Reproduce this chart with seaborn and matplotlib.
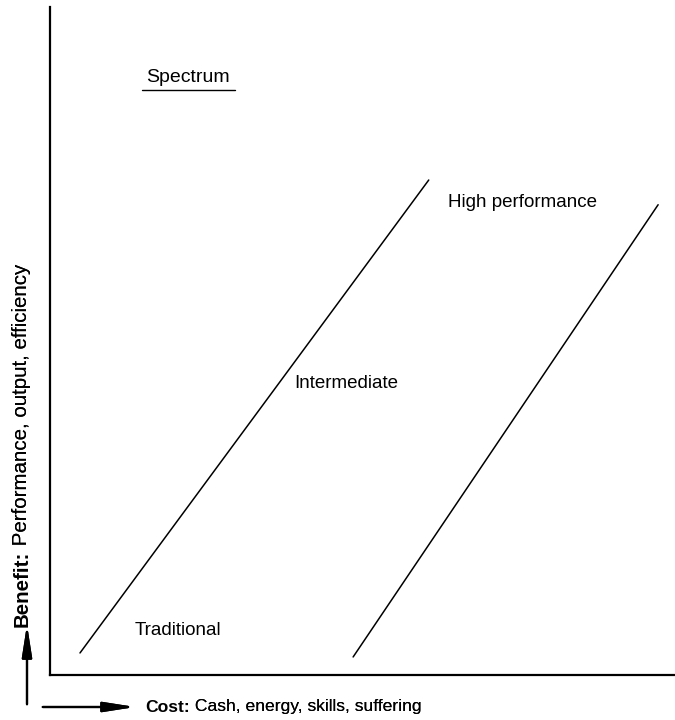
import pandas as pd
import matplotlib.pyplot as plt
import seaborn as sns

# two boundary lines of the spectrum (cost vs benefit, 0-100 scale)
boundaries = ["lower", "upper"]
cost_start = [4.8, 48.5]
cost_end = [60.6, 97.3]
benefit_start = [3.3, 2.7]
benefit_end = [74.1, 70.4]

# region labels
regions = ["Traditional", "Intermediate", "High performance"]
region_x = [20.4, 47.4, 75.6]
region_y = [6.7, 43.6, 70.8]

sns.set_theme(style="white")
plt.rcParams["font.family"] = ["Liberation Sans", "DejaVu Sans"]
plt.rcParams["text.color"] = "black"

df = pd.DataFrame({
    "boundary": boundaries * 2,
    "cost": cost_start + cost_end,
    "benefit": benefit_start + benefit_end,
})

fig = plt.figure(figsize=(6.75, 7.2), dpi=100)
ax = fig.add_axes([50 / 675, 45 / 720, 625 / 675, 668 / 720])

sns.lineplot(data=df, x="cost", y="benefit", units="boundary", estimator=None,
             color="black", linewidth=1.1, ax=ax)

for name, x, y in zip(regions, region_x, region_y):
    ax.text(x, y, name, ha="center", va="center", fontsize=13.5)

# title with underline
ax.text(22.1, 89.5, "Spectrum", ha="center", va="center", fontsize=14)
ax.plot([14.7, 29.6], [87.6, 87.6], color="black", linewidth=1.0)

ax.set_xlim(0, 100)
ax.set_ylim(0, 100)
ax.set_xticks([])
ax.set_yticks([])
ax.set_xlabel("")
ax.set_ylabel("")
for side in ["top", "right"]:
    ax.spines[side].set_visible(False)
for side in ["left", "bottom"]:
    ax.spines[side].set_color("black")
    ax.spines[side].set_linewidth(1.6)

# axis labels: bold lead word followed by regular text
yb = fig.text(22 / 675, 1 - 627 / 720, "Benefit:", rotation=90, ha="center", va="bottom",
              fontsize=14.8, fontweight="bold")
fig.add_artist(plt.annotate(" Performance, output, efficiency", xy=(0.5, 1), xycoords=yb,
                            rotation=90, ha="center", va="bottom", fontsize=14.8))
xb = fig.text(145 / 675, 1 - 707 / 720, "Cost:", ha="left", va="center",
              fontsize=12.6, fontweight="bold")
fig.add_artist(plt.annotate(" Cash, energy, skills, suffering", xy=(1, 0), xycoords=xb,
                            ha="left", va="bottom", fontsize=12.6))

arrow = dict(arrowstyle="-|>,head_length=1.6,head_width=0.25", color="black", lw=1.6)
fig.add_artist(plt.annotate("", xy=(27 / 675, 1 - 622 / 720), xytext=(27 / 675, 1 - 707 / 720),
                            xycoords="figure fraction", arrowprops=arrow))
fig.add_artist(plt.annotate("", xy=(138 / 675, 1 - 707 / 720), xytext=(40 / 675, 1 - 707 / 720),
                            xycoords="figure fraction", arrowprops=arrow))

plt.savefig("out.png", dpi=100)
